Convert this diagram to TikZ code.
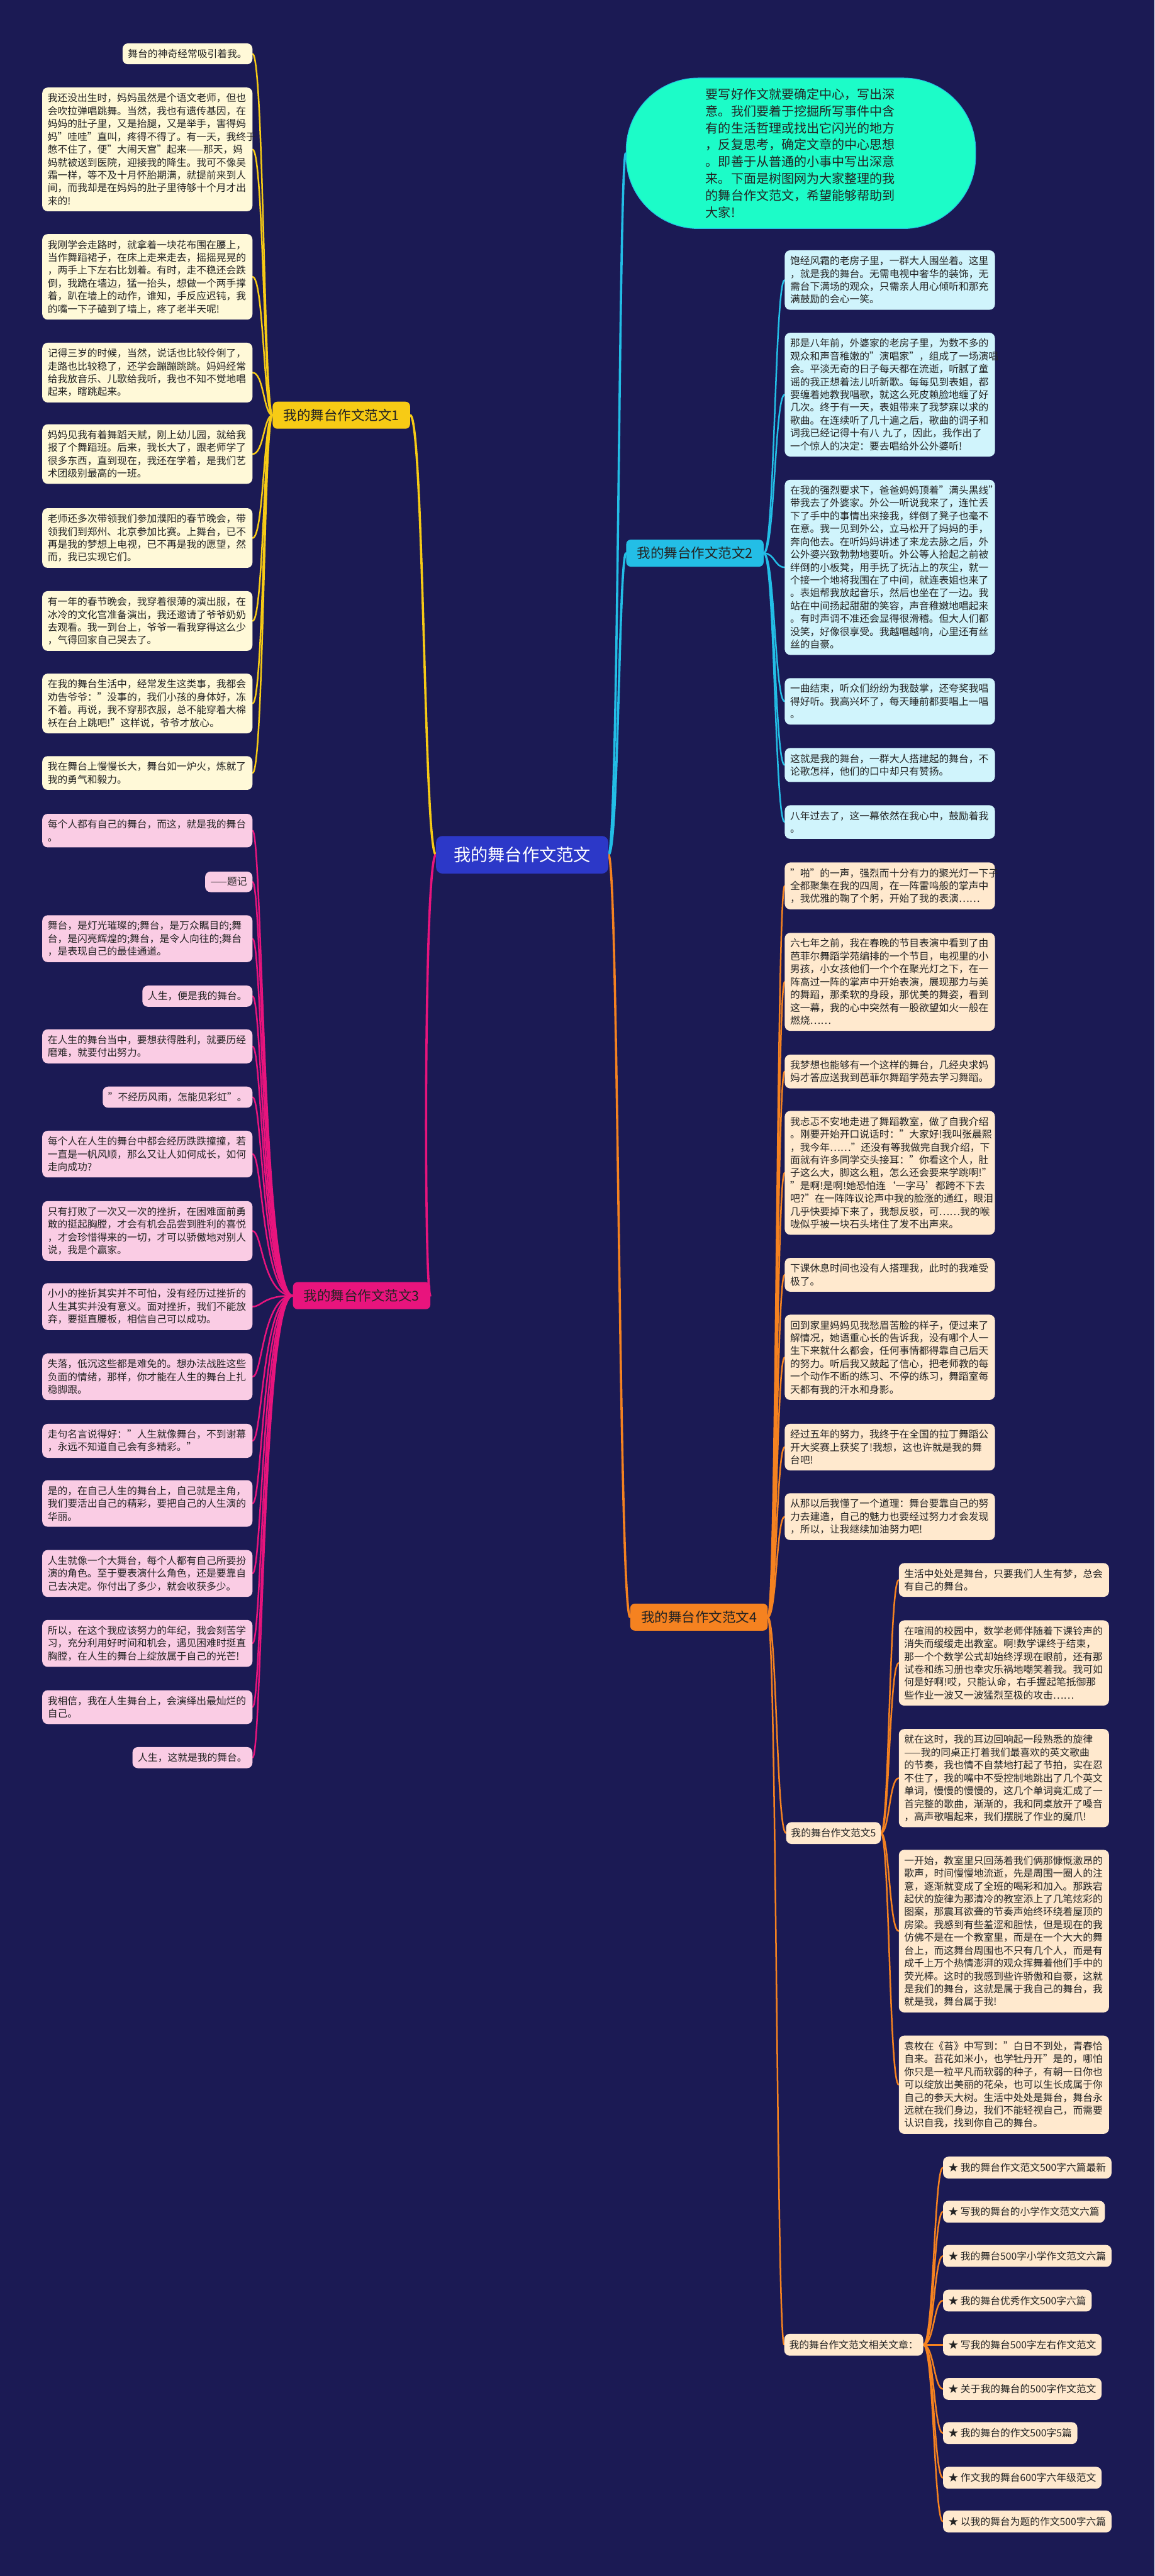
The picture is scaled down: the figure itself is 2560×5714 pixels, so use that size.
\documentclass[tikz,border=0pt]{standalone}
\usepackage{fontspec}
\setmainfont{Noto Sans CJK SC}
\pgfdeclarelayer{background}
\pgfdeclarelayer{lines}
\pgfsetlayers{background,lines,main}
\definecolor{bgc}{RGB}{27,26,84}
\definecolor{ycol}{RGB}{247,203,21}
\definecolor{yfill}{RGB}{255,249,216}
\definecolor{pcol}{RGB}{232,20,125}
\definecolor{pfill}{RGB}{250,204,228}
\definecolor{ccol}{RGB}{35,190,230}
\definecolor{cfill}{RGB}{208,244,252}
\definecolor{ocol}{RGB}{245,130,32}
\definecolor{ofill}{RGB}{255,233,206}
\definecolor{bub}{RGB}{28,252,200}
\definecolor{mainc}{RGB}{44,56,200}
\definecolor{txt}{RGB}{35,35,35}
\begin{document}
\begin{tikzpicture}[x=1pt,y=-1pt,
  leaf/.style={rounded corners=12pt, inner xsep=12pt, inner ysep=13pt, font=\fontsize{22}{28.5}\selectfont, text=txt, align=left},
  wide/.style={leaf, text width=442pt},
  ya/.style={wide, fill=yfill, anchor=north east},
  ys/.style={leaf, fill=yfill, anchor=north east},
  pa/.style={wide, fill=pfill, anchor=north east},
  ps/.style={leaf, fill=pfill, anchor=north east},
  ca/.style={wide, fill=cfill, anchor=north west},
  oa/.style={wide, fill=ofill, anchor=north west},
  sublab/.style={leaf, fill=ofill, inner xsep=11pt, inner ysep=14pt, anchor=west},
  rel/.style={leaf, fill=ofill, inner xsep=12pt, inner ysep=14pt, anchor=west},
  lab/.style={rounded corners=10pt, inner xsep=24pt, inner ysep=16pt, font=\fontsize{30}{36}\selectfont, text=txt},
  mainnode/.style={fill=mainc, text=white, rounded corners=14pt, inner xsep=39pt, inner ysep=24pt, font=\fontsize{38}{44}\selectfont},
  bubble/.style={fill=bub, draw=ccol, line width=1.5pt, rounded corners=160pt, minimum width=775pt, minimum height=334pt, text width=422pt, align=left, font=\fontsize{28}{37.6}\selectfont, text=txt},
  bigline/.style={line width=5pt, line cap=round},
  subline/.style={line width=3.5pt, line cap=round}
]
\useasboundingbox (0,0) rectangle (2560,5714);
\begin{pgfonlayer}{background}
\fill[bgc] (0,0) rectangle (2560,5714);
\end{pgfonlayer}

% trunk coordinates
\coordinate (t1) at (585,0);
\coordinate (t3) at (582,0);
\coordinate (t2) at (1718,0);
\coordinate (t4) at (1722,0);
\coordinate (t5) at (1972,0);
\coordinate (t6) at (2071,0);
\coordinate (tl) at (940,0);
\coordinate (tr) at (1372,0);

% center
\node[mainnode] (M) at (1158,1896) {我的舞台作文范文};

% bubble
\node[bubble] (B) at (1776,340) {要写好作文就要确定中心，写出深\\意。我们要着于挖掘所写事件中含\\有的生活哲理或找出它闪光的地方\\，反复思考，确定文章的中心思想\\。即善于从普通的小事中写出深意\\来。下面是树图网为大家整理的我\\的舞台作文范文，希望能够帮助到\\大家!};

% labels
\node[lab, fill=ycol] (L1) at (757,921) {我的舞台作文范文1};
\node[lab, fill=ccol] (L2) at (1541,1227) {我的舞台作文范文2};
\node[lab, fill=pcol] (L3) at (802,2874) {我的舞台作文范文3};
\node[lab, fill=ocol] (L4) at (1550,3587) {我的舞台作文范文4};

% group 1
\node[ys] (a1) at (560,96) {舞台的神奇经常吸引着我。};
\node[ya] (a2) at (560,194) {我还没出生时，妈妈虽然是个语文老师，但也\\会吹拉弹唱跳舞。当然，我也有遗传基因，在\\妈妈的肚子里，又是抬腿，又是举手，害得妈\\妈"哇哇"直叫，疼得不得了。有一天，我终于\\憋不住了，便"大闹天宫"起来——那天，妈\\妈就被送到医院，迎接我的降生。我可不像吴\\霜一样，等不及十月怀胎期满，就提前来到人\\间，而我却是在妈妈的肚子里待够十个月才出\\来的!};
\node[ya] (a3) at (560,519) {我刚学会走路时，就拿着一块花布围在腰上，\\当作舞蹈裙子，在床上走来走去，摇摇晃晃的\\，两手上下左右比划着。有时，走不稳还会跌\\倒，我跪在墙边，猛一抬头，想做一个两手撑\\着，趴在墙上的动作，谁知，手反应迟钝，我\\的嘴一下子磕到了墙上，疼了老半天呢!};
\node[ya] (a4) at (560,760) {记得三岁的时候，当然，说话也比较伶俐了，\\走路也比较稳了，还学会蹦蹦跳跳。妈妈经常\\给我放音乐、儿歌给我听，我也不知不觉地唱\\起来，瞎跳起来。};
\node[ya] (a5) at (560,941) {妈妈见我有着舞蹈天赋，刚上幼儿园，就给我\\报了个舞蹈班。后来，我长大了，跟老师学了\\很多东西，直到现在，我还在学着，是我们艺\\术团级别最高的一班。};
\node[ya] (a6) at (560,1127) {老师还多次带领我们参加濮阳的春节晚会，带\\领我们到郑州、北京参加比赛。上舞台，已不\\再是我的梦想上电视，已不再是我的愿望，然\\而，我已实现它们。};
\node[ya] (a7) at (560,1311) {有一年的春节晚会，我穿着很薄的演出服，在\\冰冷的文化宫准备演出，我还邀请了爷爷奶奶\\去观看。我一到台上，爷爷一看我穿得这么少\\，气得回家自己哭去了。};
\node[ya] (a8) at (560,1494) {在我的舞台生活中，经常发生这类事，我都会\\劝告爷爷："没事的，我们小孩的身体好，冻\\不着。再说，我不穿那衣服，总不能穿着大棉\\袄在台上跳吧!"这样说，爷爷才放心。};
\node[ya] (a9) at (560,1677) {我在舞台上慢慢长大，舞台如一炉火，炼就了\\我的勇气和毅力。};

% group 3
\node[pa] (c1) at (560,1805) {每个人都有自己的舞台，而这，就是我的舞台\\。};
\node[ps] (c2) at (560,1933) {——题记};
\node[pa] (c3) at (560,2030) {舞台，是灯光璀璨的;舞台，是万众瞩目的;舞\\台，是闪亮辉煌的;舞台，是令人向往的;舞台\\，是表现自己的最佳通道。};
\node[ps] (c4) at (560,2186) {人生，便是我的舞台。};
\node[pa] (c5) at (560,2283) {在人生的舞台当中，要想获得胜利，就要历经\\磨难，就要付出努力。};
\node[ps] (c6) at (560,2410) {"不经历风雨，怎能见彩虹"。};
\node[pa] (c7) at (560,2508) {每个人在人生的舞台中都会经历跌跌撞撞，若\\一直是一帆风顺，那么又让人如何成长，如何\\走向成功?};
\node[pa] (c8) at (560,2664) {只有打败了一次又一次的挫折，在困难面前勇\\敢的挺起胸膛，才会有机会品尝到胜利的喜悦\\，才会珍惜得来的一切，才可以骄傲地对别人\\说，我是个赢家。};
\node[pa] (c9) at (560,2846) {小小的挫折其实并不可怕，没有经历过挫折的\\人生其实并没有意义。面对挫折，我们不能放\\弃，要挺直腰板，相信自己可以成功。};
\node[pa] (c10) at (560,3002) {失落，低沉这些都是难免的。想办法战胜这些\\负面的情绪，那样，你才能在人生的舞台上扎\\稳脚跟。};
\node[pa] (c11) at (560,3158) {走句名言说得好："人生就像舞台，不到谢幕\\，永远不知道自己会有多精彩。"};
\node[pa] (c12) at (560,3283) {是的，在自己人生的舞台上，自己就是主角，\\我们要活出自己的精彩，要把自己的人生演的\\华丽。};
\node[pa] (c13) at (560,3438) {人生就像一个大舞台，每个人都有自己所要扮\\演的角色。至于要表演什么角色，还是要靠自\\己去决定。你付出了多少，就会收获多少。};
\node[pa] (c14) at (560,3593) {所以，在这个我应该努力的年纪，我会刻苦学\\习，充分利用好时间和机会，遇见困难时挺直\\胸膛，在人生的舞台上绽放属于自己的光芒!};
\node[pa] (c15) at (560,3749) {我相信，我在人生舞台上，会演绎出最灿烂的\\自己。};
\node[ps] (c16) at (560,3875) {人生，这就是我的舞台。};

% group 2
\node[ca] (b1) at (1740,555) {饱经风霜的老房子里，一群大人围坐着。这里\\，就是我的舞台。无需电视中奢华的装饰，无\\需台下满场的观众，只需亲人用心倾听和那充\\满鼓励的会心一笑。};
\node[ca] (b2) at (1740,738) {那是八年前，外婆家的老房子里，为数不多的\\观众和声音稚嫩的"演唱家"，组成了一场演唱\\会。平淡无奇的日子每天都在流逝，听腻了童\\谣的我正想着法儿听新歌。每每见到表姐，都\\要缠着她教我唱歌，就这么死皮赖脸地缠了好\\几次。终于有一天，表姐带来了我梦寐以求的\\歌曲。在连续听了几十遍之后，歌曲的调子和\\词我已经记得十有八 九了，因此，我作出了\\一个惊人的决定：要去唱给外公外婆听!};
\node[ca] (b3) at (1740,1064) {在我的强烈要求下，爸爸妈妈顶着"满头黑线"\\带我去了外婆家。外公一听说我来了，连忙丢\\下了手中的事情出来接我，绊倒了凳子也毫不\\在意。我一见到外公，立马松开了妈妈的手，\\奔向他去。在听妈妈讲述了来龙去脉之后，外\\公外婆兴致勃勃地要听。外公等人拾起之前被\\绊倒的小板凳，用手抚了抚沾上的灰尘，就一\\个接一个地将我围在了中间，就连表姐也来了\\。表姐帮我放起音乐，然后也坐在了一边。我\\站在中间扬起甜甜的笑容，声音稚嫩地唱起来\\。有时声调不准还会显得很滑稽。但大人们都\\没笑，好像很享受。我越唱越响，心里还有丝\\丝的自豪。};
\node[ca] (b4) at (1740,1504) {一曲结束，听众们纷纷为我鼓掌，还夸奖我唱\\得好听。我高兴坏了，每天睡前都要唱上一唱\\。};
\node[ca] (b5) at (1740,1659) {这就是我的舞台，一群大人搭建起的舞台，不\\论歌怎样，他们的口中却只有赞扬。};
\node[ca] (b6) at (1740,1786) {八年过去了，这一幕依然在我心中，鼓励着我\\。};

% group 4
\node[oa] (d1) at (1740,1913) {"啪"的一声，强烈而十分有力的聚光灯一下子\\全都聚集在我的四周，在一阵雷鸣般的掌声中\\，我优雅的鞠了个躬，开始了我的表演……};
\node[oa] (d2) at (1740,2069) {六七年之前，我在春晚的节目表演中看到了由\\芭菲尔舞蹈学苑编排的一个节目，电视里的小\\男孩，小女孩他们一个个在聚光灯之下，在一\\阵高过一阵的掌声中开始表演，展现那力与美\\的舞蹈，那柔软的身段，那优美的舞姿，看到\\这一幕，我的心中突然有一股欲望如火一般在\\燃烧……};
\node[oa] (d3) at (1740,2339) {我梦想也能够有一个这样的舞台，几经央求妈\\妈才答应送我到芭菲尔舞蹈学苑去学习舞蹈。};
\node[oa] (d4) at (1740,2464) {我忐忑不安地走进了舞蹈教室，做了自我介绍\\。刚要开始开口说话时："大家好!我叫张晨熙\\，我今年……"还没有等我做完自我介绍，下\\面就有许多同学交头接耳："你看这个人，肚\\子这么大，脚这么粗，怎么还会要来学跳啊!"\\"是啊!是啊!她恐怕连‘一字马’都跨不下去\\吧?"在一阵阵议论声中我的脸涨的通红，眼泪\\几乎快要掉下来了，我想反驳，可……我的喉\\咙似乎被一块石头堵住了发不出声来。};
\node[oa] (d5) at (1740,2790) {下课休息时间也没有人搭理我，此时的我难受\\极了。};
\node[oa] (d6) at (1740,2916) {回到家里妈妈见我愁眉苦脸的样子，便过来了\\解情况，她语重心长的告诉我，没有哪个人一\\生下来就什么都会，任何事情都得靠自己后天\\的努力。听后我又鼓起了信心，把老师教的每\\一个动作不断的练习、不停的练习，舞蹈室每\\天都有我的汗水和身影。};
\node[oa] (d7) at (1740,3158) {经过五年的努力，我终于在全国的拉丁舞蹈公\\开大奖赛上获奖了!我想，这也许就是我的舞\\台吧!};
\node[oa] (d8) at (1740,3312) {从那以后我懂了一个道理：舞台要靠自己的努\\力去建造，自己的魅力也要经过努力才会发现\\，所以，让我继续加油努力吧!};
\node[sublab] (L5) at (1743,4066) {我的舞台作文范文5};
\node[sublab] (L6) at (1739,5201) {我的舞台作文范文相关文章：};

% group 5
\node[oa] (e1) at (1993,3467) {生活中处处是舞台，只要我们人生有梦，总会\\有自己的舞台。};
\node[oa] (e2) at (1993,3594) {在喧闹的校园中，数学老师伴随着下课铃声的\\消失而缓缓走出教室。啊!数学课终于结束，\\那一个个数学公式却始终浮现在眼前，还有那\\试卷和练习册也幸灾乐祸地嘲笑着我。我可如\\何是好啊!哎，只能认命，右手握起笔抵御那\\些作业一波又一波猛烈至极的攻击……};
\node[oa] (e3) at (1993,3835) {就在这时，我的耳边回响起一段熟悉的旋律\\——我的同桌正打着我们最喜欢的英文歌曲\\的节奏，我也情不自禁地打起了节拍，实在忍\\不住了，我的嘴中不受控制地跳出了几个英文\\单词，慢慢的慢慢的，这几个单词竟汇成了一\\首完整的歌曲，渐渐的，我和同桌放开了嗓音\\，高声歌唱起来，我们摆脱了作业的魔爪!};
\node[oa] (e4) at (1993,4103) {一开始，教室里只回荡着我们俩那慷慨激昂的\\歌声，时间慢慢地流逝，先是周围一圈人的注\\意，逐渐就变成了全班的喝彩和加入。那跌宕\\起伏的旋律为那清冷的教室添上了几笔炫彩的\\图案，那震耳欲聋的节奏声始终环绕着屋顶的\\房梁。我感到有些羞涩和胆怯，但是现在的我\\仿佛不是在一个教室里，而是在一个大大的舞\\台上，而这舞台周围也不只有几个人，而是有\\成千上万个热情澎湃的观众挥舞着他们手中的\\荧光棒。这时的我感到些许骄傲和自豪，这就\\是我们的舞台，这就是属于我自己的舞台，我\\就是我，舞台属于我!};
\node[oa] (e5) at (1993,4515) {袁枚在《苔》中写到："白日不到处，青春恰\\自来。苔花如米小，也学牡丹开"是的，哪怕\\你只是一粒平凡而软弱的种子，有朝一日你也\\可以绽放出美丽的花朵，也可以生长成属于你\\自己的参天大树。生活中处处是舞台，舞台永\\远就在我们身边，我们不能轻视自己，而需要\\认识自我，找到你自己的舞台。};

% related
\node[rel] (r1) at (2091,4808) {★ 我的舞台作文范文500字六篇最新};
\node[rel] (r2) at (2091,4906) {★ 写我的舞台的小学作文范文六篇};
\node[rel] (r3) at (2091,5004) {★ 我的舞台500字小学作文范文六篇};
\node[rel] (r4) at (2091,5103) {★ 我的舞台优秀作文500字六篇};
\node[rel] (r5) at (2091,5201) {★ 写我的舞台500字左右作文范文};
\node[rel] (r6) at (2091,5299) {★ 关于我的舞台的500字作文范文};
\node[rel] (r7) at (2091,5397) {★ 我的舞台的作文500字5篇};
\node[rel] (r8) at (2091,5496) {★ 作文我的舞台600字六年级范文};
\node[rel] (r9) at (2091,5593) {★ 以我的舞台为题的作文500字六篇};

\begin{pgfonlayer}{lines}
% center branches
\draw[bigline, ycol] (M.west) .. controls (M.west -| tl) and (L1.east -| tl) .. (L1.east);
\draw[bigline, pcol] (M.west) .. controls (M.west -| tl) and (L3.east -| tl) .. (L3.east);
\draw[bigline, ccol] (M.east) .. controls (M.east -| tr) and (L2.west -| tr) .. (L2.west);
\draw[bigline, ccol] (M.east) .. controls (M.east -| tr) and (B.west -| tr) .. (B.west);
\draw[bigline, ocol] (M.east) .. controls (M.east -| tr) and (L4.west -| tr) .. (L4.west);
% group 1
\foreach \n in {a1,a2,a3,a4,a5,a6,a7,a8,a9}
  \draw[subline, ycol] (L1.west) .. controls (L1.west -| t1) and (\n.east -| t1) .. (\n.east);
% group 3
\foreach \n in {c1,c2,c3,c4,c5,c6,c7,c8,c9,c10,c11,c12,c13,c14,c15,c16}
  \draw[subline, pcol] (L3.west) .. controls (L3.west -| t3) and (\n.east -| t3) .. (\n.east);
% group 2
\foreach \n in {b1,b2,b3,b4,b5,b6}
  \draw[subline, ccol] (L2.east) .. controls (L2.east -| t2) and (\n.west -| t2) .. (\n.west);
% group 4
\foreach \n in {d1,d2,d3,d4,d5,d6,d7,d8,L5,L6}
  \draw[subline, ocol] (L4.east) .. controls (L4.east -| t4) and (\n.west -| t4) .. (\n.west);
% group 5
\foreach \n in {e1,e2,e3,e4,e5}
  \draw[subline, ocol] (L5.east) .. controls (L5.east -| t5) and (\n.west -| t5) .. (\n.west);
% related
\foreach \n in {r1,r2,r3,r4,r5,r6,r7,r8,r9}
  \draw[subline, ocol] (L6.east) .. controls (L6.east -| t6) and (\n.west -| t6) .. (\n.west);
\end{pgfonlayer}
\end{tikzpicture}
\end{document}
